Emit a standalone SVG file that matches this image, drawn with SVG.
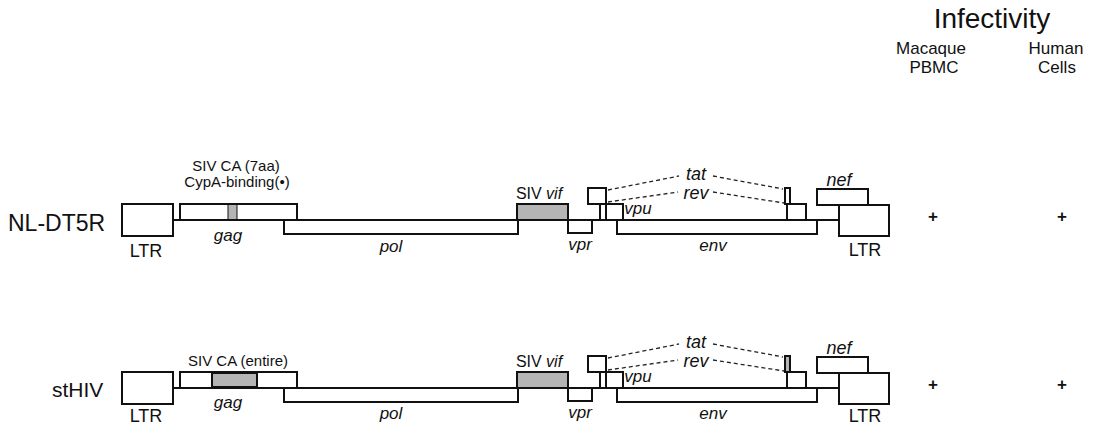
<svg xmlns="http://www.w3.org/2000/svg" width="1094" height="427" viewBox="0 0 1094 427">
<style>
text{font-family:"Liberation Sans",Arial,sans-serif;fill:#111}
.box{fill:#fff;stroke:#111;stroke-width:2}
.grey{fill:#b5b5b5;stroke:#111;stroke-width:2}
.fill{fill:#b5b5b5;stroke:none}
.bb{stroke:#111;stroke-width:2;fill:none}
.dash{stroke:#222;stroke-width:1.3;stroke-dasharray:4 3;fill:none}
.gene{font-size:17px;font-style:italic;text-anchor:middle}
.ltr{font-size:18px;text-anchor:middle}
.lab{font-size:15px;text-anchor:middle}
.name{font-size:21px}
.hd{font-size:17px;text-anchor:middle}
.plus{font-size:17px;font-weight:bold;text-anchor:middle}
</style>
<g id="header">
<text x="992" y="28" style="font-size:28px;text-anchor:middle">Infectivity</text>
<text class="hd" x="931" y="54">Macaque</text>
<text class="hd" x="934" y="73">PBMC</text>
<text class="hd" x="1056" y="54">Human</text>
<text class="hd" x="1057" y="73">Cells</text>
</g>
<g id="row1">
<g id="r1-connectors">
<line class="bb" x1="173" y1="220" x2="839" y2="220"/>
<line class="dash" x1="608" y1="190" x2="679" y2="176"/>
<line class="dash" x1="713" y1="176" x2="783" y2="189"/>
<line class="dash" x1="608" y1="202" x2="678" y2="192"/>
<line class="dash" x1="713" y1="192" x2="784" y2="203"/>
</g>
<text id="r1-name" class="name" x="8" y="231" style="font-size:23px">NL-DT5R</text>
<g id="r1-ltr5"><rect class="box" x="122" y="204" width="51" height="32"/><text class="ltr" x="146" y="257">LTR</text></g>
<g id="r1-gag"><rect class="box" x="180" y="204" width="117" height="16"/><rect class="fill" x="228" y="205" width="9" height="14"/><line stroke="#111" stroke-width="1" x1="228" y1="205" x2="228" y2="219"/><line stroke="#111" stroke-width="1" x1="237" y1="205" x2="237" y2="219"/><text class="gene" x="228" y="241">gag</text>
<text class="lab" x="236" y="171">SIV CA (7aa)</text><text class="lab" x="237" y="187">CypA-binding(•)</text></g>
<g id="r1-pol"><rect class="box" x="284" y="220" width="234" height="14"/><text class="gene" x="391" y="252">pol</text></g>
<g id="r1-vif"><rect class="grey" x="517" y="204" width="51" height="16"/><text x="539" y="199" style="font-size:16px;text-anchor:middle">SIV <tspan font-style="italic">vif</tspan></text></g>
<g id="r1-vpr"><rect class="box" x="568" y="220" width="24" height="13"/><text class="gene" x="580" y="250">vpr</text></g>
<g id="r1-tat"><rect class="box" x="588" y="188" width="18" height="16"/><rect class="box" x="785" y="188" width="5" height="16"/><text class="gene" x="696" y="180" style="font-size:18px">tat</text></g>
<g id="r1-rev"><rect class="box" x="600" y="204" width="6" height="16"/><rect class="box" x="787" y="204" width="19" height="16"/><text class="gene" x="696" y="199" style="font-size:18px">rev</text></g>
<g id="r1-vpu"><rect class="box" x="606" y="204" width="17" height="16"/><text class="gene" x="638" y="214">vpu</text></g>
<g id="r1-env"><rect class="box" x="617" y="220" width="200" height="14"/><text class="gene" x="713" y="251">env</text></g>
<g id="r1-nef"><rect class="box" x="817" y="189" width="51" height="16"/><text class="gene" x="839" y="186" style="font-size:18px">nef</text></g>
<g id="r1-ltr3"><rect class="box" x="839" y="205" width="50" height="31"/><text class="ltr" x="865" y="256">LTR</text></g>
<g id="r1-inf"><text class="plus" x="933" y="222">+</text><text class="plus" x="1062" y="222">+</text></g>
</g>
<g id="row2" transform="translate(0,168)">
<g id="r2-connectors">
<line class="bb" x1="173" y1="220" x2="839" y2="220"/>
<line class="dash" x1="608" y1="190" x2="679" y2="176"/>
<line class="dash" x1="713" y1="176" x2="783" y2="189"/>
<line class="dash" x1="608" y1="202" x2="678" y2="192"/>
<line class="dash" x1="713" y1="192" x2="784" y2="203"/>
</g>
<text id="r2-name" class="name" x="52" y="229">stHIV</text>
<g id="r2-ltr5"><rect class="box" x="122" y="204" width="51" height="32"/><text class="ltr" x="146" y="254">LTR</text></g>
<g id="r2-gag"><rect class="box" x="180" y="204" width="117" height="16"/><rect class="grey" x="212" y="205" width="45" height="14"/><text class="gene" x="228" y="240">gag</text>
<text class="lab" x="238" y="198">SIV CA (entire)</text></g>
<g id="r2-pol"><rect class="box" x="284" y="220" width="234" height="14"/><text class="gene" x="391" y="251">pol</text></g>
<g id="r2-vif"><rect class="grey" x="517" y="204" width="51" height="16"/><text x="539" y="199" style="font-size:16px;text-anchor:middle">SIV <tspan font-style="italic">vif</tspan></text></g>
<g id="r2-vpr"><rect class="box" x="568" y="220" width="24" height="13"/><text class="gene" x="580" y="250">vpr</text></g>
<g id="r2-tat"><rect class="box" x="588" y="188" width="18" height="16"/><rect class="grey" x="785" y="188" width="5" height="16"/><text class="gene" x="696" y="180" style="font-size:18px">tat</text></g>
<g id="r2-rev"><rect class="box" x="600" y="204" width="6" height="16"/><rect class="box" x="787" y="204" width="19" height="16"/><text class="gene" x="696" y="199" style="font-size:18px">rev</text></g>
<g id="r2-vpu"><rect class="box" x="606" y="204" width="17" height="16"/><text class="gene" x="638" y="214">vpu</text></g>
<g id="r2-env"><rect class="box" x="617" y="220" width="200" height="14"/><text class="gene" x="713" y="251">env</text></g>
<g id="r2-nef"><rect class="box" x="817" y="189" width="51" height="16"/><text class="gene" x="839" y="186" style="font-size:18px">nef</text></g>
<g id="r2-ltr3"><rect class="box" x="839" y="205" width="50" height="31"/><text class="ltr" x="865" y="254">LTR</text></g>
<g id="r2-inf"><text class="plus" x="933" y="222">+</text><text class="plus" x="1062" y="222">+</text></g>
</g>
</svg>
